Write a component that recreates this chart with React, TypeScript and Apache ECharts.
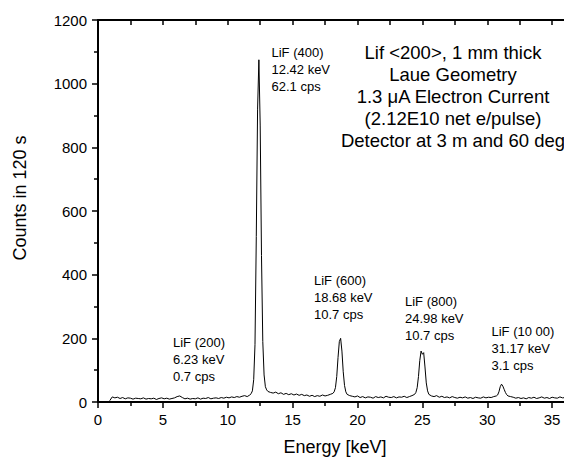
import React, { useEffect, useRef } from "react";
import * as echarts from "echarts";

// Spectrum: energy [keV] and counts in 120 s
const energy: number[] = [
  0.9, 1.1, 1.3, 1.5, 1.7, 1.9, 2.1, 2.3, 2.5, 2.7, 2.9, 3.1, 3.3, 3.5, 3.7, 3.9, 4.1, 4.3, 4.5, 4.7,
  4.9, 5.1, 5.3, 5.5, 5.7, 5.9, 6.1, 6.3, 6.5, 6.7, 6.9, 7.1, 7.3, 7.5, 7.7, 7.9, 8.1, 8.3, 8.5, 8.7,
  8.9, 9.1, 9.3, 9.5, 9.7, 9.9, 10.1, 10.3, 10.5, 10.7, 10.9, 11.1, 11.3, 11.5,
  11.7, 11.8, 11.9, 12.0, 12.1, 12.2, 12.3, 12.4, 12.5, 12.6, 12.7, 12.8, 12.9, 13.0, 13.1, 13.3,
  13.5, 13.7, 13.9, 14.1, 14.3, 14.5, 14.7, 14.9, 15.1, 15.3, 15.5, 15.7, 15.9, 16.1, 16.3, 16.5,
  16.7, 16.9, 17.1, 17.3, 17.5, 17.7, 17.9, 18.1,
  18.2, 18.3, 18.4, 18.5, 18.6, 18.7, 18.8, 18.9, 19.0, 19.1, 19.2, 19.4,
  19.6, 19.8, 20.0, 20.2, 20.4, 20.6, 20.8, 21.0, 21.2, 21.4, 21.6, 21.8, 22.0, 22.2, 22.4, 22.6,
  22.8, 23.0, 23.2, 23.4, 23.6, 23.8, 24.0, 24.2, 24.4,
  24.5, 24.6, 24.7, 24.8, 24.9, 25.0, 25.1, 25.2, 25.3, 25.4, 25.5, 25.7,
  25.9, 26.1, 26.3, 26.5, 26.7, 26.9, 27.1, 27.3, 27.5, 27.7, 27.9, 28.1, 28.3, 28.5, 28.7, 28.9,
  29.1, 29.3, 29.5, 29.7, 29.9, 30.1, 30.3, 30.5, 30.7,
  30.8, 30.9, 31.0, 31.1, 31.2, 31.3, 31.4, 31.5, 31.6, 31.8,
  32.0, 32.2, 32.4, 32.6, 32.8, 33.0, 33.2, 33.4, 33.6, 33.8, 34.0, 34.2, 34.4, 34.6, 34.8, 35.0,
  35.2, 35.4, 35.6, 35.8, 36.0, 36.2, 36.4, 36.6, 36.8, 37.0,
];

const counts: number[] = [
  4, 16, 13, 15, 11, 14, 10, 13, 12, 9, 12, 11, 10, 13, 9, 11, 10, 12, 8, 11,
  13, 10, 12, 9, 11, 13, 17, 19, 14, 10, 12, 9, 11, 10, 13, 9, 12, 11, 14, 10,
  12, 13, 11, 14, 12, 15, 13, 16, 14, 17, 15, 18, 20, 17,
  22, 26, 35, 70, 180, 520, 920, 1075, 870, 460, 190, 85, 48, 38, 33, 30,
  28, 31, 26, 29, 24, 27, 23, 26, 22, 25, 21, 24, 20, 22, 18, 21,
  17, 20, 18, 22, 19, 21, 24, 27,
  32, 45, 80, 140, 190, 200, 160, 95, 52, 32, 24, 20,
  18, 16, 19, 14, 17, 13, 16, 15, 12, 17, 14, 16, 13, 18, 15, 14,
  17, 13, 16, 15, 18, 14, 17, 20, 24,
  30, 45, 80, 130, 160, 150, 155, 110, 60, 35, 24, 19,
  17, 20, 15, 18, 14, 16, 13, 17, 14, 12, 15, 13, 16, 12, 14, 11,
  15, 13, 12, 16, 13, 15, 14, 17, 19,
  22, 32, 48, 56, 50, 40, 30, 23, 19, 17,
  15, 12, 14, 11, 13, 10, 14, 12, 15, 11, 13, 16, 12, 14, 11, 15,
  13, 12, 16, 13, 14, 12, 15, 13, 14, 12,
];

const peakLabels: string[] = [
  "LiF (400)\n12.42 keV\n62.1 cps",
  "LiF (200)\n6.23 keV\n0.7 cps",
  "LiF (600)\n18.68 keV\n10.7 cps",
  "LiF (800)\n24.98 keV\n10.7 cps",
  "LiF (10 00)\n31.17 keV\n3.1 cps",
];

const infoLines: string[] = [
  "Lif <200>, 1 mm thick",
  "Laue Geometry",
  "1.3 \u03bcA Electron Current",
  "(2.12E10 net e/pulse)",
  "Detector at 3 m and 60 deg",
];

const xTitle = "Energy [keV]";
const yTitle = "Counts in 120 s";

const FONT = "Arial, 'Liberation Sans', Helvetica, sans-serif";

export default function App() {
  const ref = useRef<HTMLDivElement>(null);

  useEffect(() => {
    if (!ref.current) return;
    const chart = echarts.init(ref.current, null, { renderer: "svg" });
    const data = energy.map((e, i) => [e, counts[i]]);

    const labelPos = [
      [271.5, 43.5],
      [173, 333.5],
      [314, 271.5],
      [405, 292.5],
      [491.5, 322.5],
    ];

    const axisLineStyle = { color: "#000", width: 2 };
    const tickStyle = { color: "#000", width: 1.5 };

    const option: any = {
      animation: false,
      backgroundColor: "#ffffff",
      grid: {
        left: 98,
        right: 0,
        top: 20,
        bottom: 56,
        show: false,
      },
      xAxis: [
        {
          type: "value",
          position: "bottom",
          min: 0,
          max: 40,
          interval: 5,
          axisLine: { show: true, onZero: false, lineStyle: axisLineStyle },
          axisTick: { show: true, inside: false, length: 6, lineStyle: tickStyle },
          minorTick: { show: true, splitNumber: 2, length: 4, lineStyle: tickStyle },
          axisLabel: {
            color: "#000",
            fontSize: 15,
            fontFamily: FONT,
            margin: 10,
            formatter: (v: number) => (v >= 40 ? "" : String(v)),
          },
          splitLine: { show: false },
        },
        {
          type: "value",
          position: "top",
          min: 0,
          max: 40,
          interval: 2.5,
          axisLine: { show: true, onZero: false, lineStyle: axisLineStyle },
          axisTick: { show: true, inside: true, length: 5, lineStyle: tickStyle },
          axisLabel: { show: false },
          splitLine: { show: false },
        },
      ],
      yAxis: {
        type: "value",
        min: 0,
        max: 1200,
        interval: 200,
        axisLine: { show: true, onZero: false, lineStyle: axisLineStyle },
        axisTick: { show: true, inside: false, length: 6, lineStyle: tickStyle },
        minorTick: { show: true, splitNumber: 2, length: 4, lineStyle: tickStyle },
        axisLabel: {
          color: "#000",
          fontSize: 15,
          fontFamily: FONT,
          margin: 11,
          formatter: (v: number) => String(v),
        },
        splitLine: { show: false },
      },
      series: [
        {
          type: "line",
          xAxisIndex: 0,
          data,
          showSymbol: false,
          symbol: "none",
          lineStyle: { color: "#000", width: 1 },
          silent: true,
        },
        {
          type: "line",
          xAxisIndex: 1,
          data,
          showSymbol: false,
          symbol: "none",
          lineStyle: { color: "#000", width: 1, opacity: 0 },
          silent: true,
        },
      ],
      graphic: [
        ...peakLabels.map((t, i) => ({
          type: "text",
          x: labelPos[i][0],
          y: labelPos[i][1],
          style: {
            text: t,
            font: `13px ${FONT}`,
            fill: "#000",
            lineHeight: 17,
            textAlign: "left",
            textVerticalAlign: "top",
          },
        })),
        {
          type: "text",
          x: 453,
          y: 41,
          style: {
            text: infoLines.join("\n"),
            font: `18.5px ${FONT}`,
            fill: "#000",
            lineHeight: 22,
            textAlign: "center",
            textVerticalAlign: "top",
          },
        },
        {
          type: "text",
          x: 335,
          y: 447,
          style: {
            text: xTitle,
            font: `18px ${FONT}`,
            fill: "#000",
            textAlign: "center",
            textVerticalAlign: "middle",
          },
        },
        {
          type: "text",
          x: 20,
          y: 198,
          rotation: Math.PI / 2,
          style: {
            text: yTitle,
            font: `18px ${FONT}`,
            fill: "#000",
            textAlign: "center",
            textVerticalAlign: "middle",
          },
        },
      ],
    };

    chart.setOption(option);
    return () => chart.dispose();
  }, []);

  return (
    <div
      style={{
        position: "fixed",
        left: 0,
        top: 0,
        width: 564,
        height: 458,
        overflow: "hidden",
        background: "#fff",
      }}
    >
      <div ref={ref} style={{ position: "absolute", left: 0, top: 0, width: 620, height: 458 }} />
    </div>
  );
}
